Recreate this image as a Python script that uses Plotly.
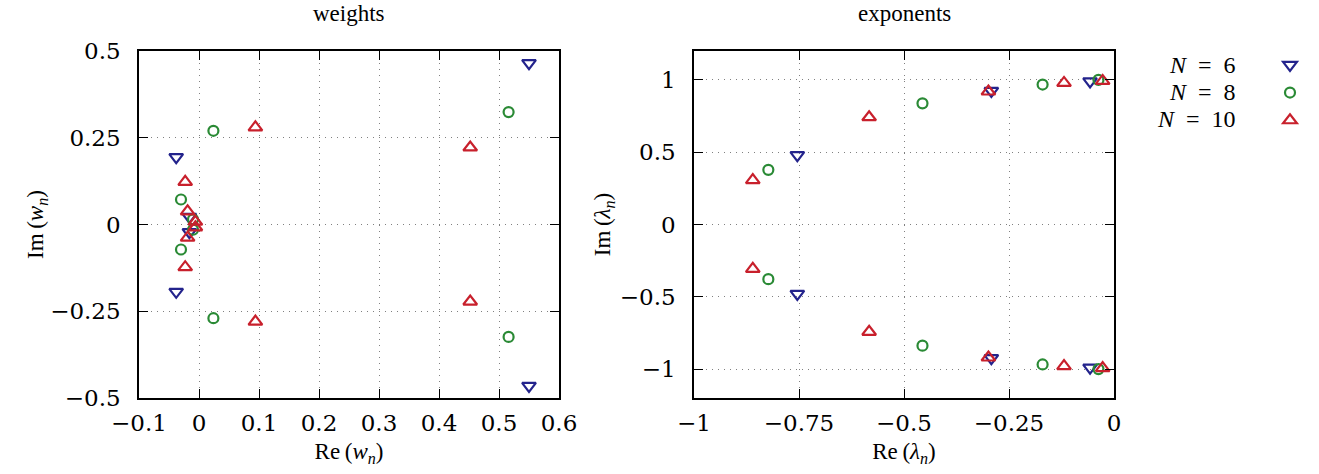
import plotly.graph_objects as go

# ---------------- data ----------------
# weights w_n (left panel)
w6_re = [0.550, -0.038, -0.016, -0.016, -0.038, 0.550]
w6_im = [0.465, 0.194, 0.022, -0.022, -0.194, -0.465]
w8_re = [0.516, 0.024, -0.030, -0.010, -0.010, -0.030, 0.024, 0.516]
w8_im = [0.324, 0.270, 0.072, 0.015, -0.015, -0.072, -0.270, -0.324]
w10_re = [0.452, 0.094, -0.023, -0.019, -0.006, -0.006, -0.019, -0.023, 0.094, 0.452]
w10_im = [0.222, 0.280, 0.123, 0.038, 0.008, -0.008, -0.038, -0.123, -0.280, -0.222]

# exponents lambda_n (right panel)
l6_re = [-0.754, -0.292, -0.057, -0.057, -0.292, -0.754]
l6_im = [0.480, 0.924, 0.990, -0.990, -0.924, -0.480]
l8_re = [-0.823, -0.456, -0.170, -0.037, -0.037, -0.170, -0.456, -0.823]
l8_im = [0.378, 0.838, 0.968, 1.000, -1.000, -0.968, -0.838, -0.378]
l10_re = [-0.860, -0.583, -0.299, -0.119, -0.027, -0.027, -0.119, -0.299, -0.583, -0.860]
l10_im = [0.307, 0.742, 0.920, 0.979, 0.993, -0.993, -0.979, -0.920, -0.742, -0.307]

series_names = ["<i>N</i>\u2002=\u20026", "<i>N</i>\u2002=\u20028", "<i>N</i>\u2002=\u200210"]
colors = ["#23238c", "#2a8a35", "#c8202c"]
symbols = ["triangle-down-open", "circle-open", "triangle-up-open"]
sizes = [12, 10, 12]

w_x_ticks = [-0.1, 0, 0.1, 0.2, 0.3, 0.4, 0.5, 0.6]
w_y_ticks = [-0.5, -0.25, 0, 0.25, 0.5]
l_x_ticks = [-1, -0.75, -0.5, -0.25, 0]
l_y_ticks = [-1, -0.5, 0, 0.5, 1]

W, H = 1319, 474
FONT = "Liberation Serif"
NUMFONT = "DejaVu Serif"


def lab(v):
    s = ("%g" % v)
    return s.replace("-", "\u2212")


fig = go.Figure()
w_data = [(w6_re, w6_im), (w8_re, w8_im), (w10_re, w10_im)]
l_data = [(l6_re, l6_im), (l8_re, l8_im), (l10_re, l10_im)]
for i in range(3):
    mk = dict(symbol=symbols[i], size=sizes[i], color=colors[i],
              line=dict(color=colors[i], width=2.2))
    fig.add_trace(go.Scatter(x=w_data[i][0], y=w_data[i][1], mode="markers",
                             xaxis="x", yaxis="y", marker=mk, name=" ",
                             legendgroup=str(i), showlegend=True))
    fig.add_trace(go.Scatter(x=l_data[i][0], y=l_data[i][1], mode="markers",
                             xaxis="x2", yaxis="y2", marker=mk, name=" ",
                             legendgroup=str(i), showlegend=False))

common = dict(showline=True, linecolor="black", linewidth=1.5, mirror="allticks",
              ticks="inside", ticklen=9, tickwidth=1.2, tickcolor="black",
              showgrid=True, gridcolor="#808080", gridwidth=1, griddash="1px,5px",
              zeroline=False, tickfont=dict(family=NUMFONT, size=23, color="black"),
              title_font=dict(family=FONT, size=23, color="black"))

ydom = [1 - 398 / H, 1 - 51 / H]
fig.update_layout(
    width=W, height=H, margin=dict(l=0, r=0, t=0, b=0, autoexpand=False),
    plot_bgcolor="white", paper_bgcolor="white",
    xaxis=dict(domain=[139 / W, 559 / W], range=[-0.1, 0.6], tickvals=w_x_ticks,
               ticktext=[lab(v) for v in w_x_ticks], anchor="y",
               title=dict(text="Re\u2009(<i>w</i><sub><i>n</i></sub>)", standoff=8),
               ticklabelstandoff=4, **common),
    yaxis=dict(domain=ydom, range=[-0.5, 0.5], tickvals=w_y_ticks,
               ticktext=[lab(v) for v in w_y_ticks], anchor="x",
               title=dict(text="Im\u2009(<i>w</i><sub><i>n</i></sub>)", standoff=0),
               ticklabelstandoff=12, **common),
    xaxis2=dict(domain=[694 / W, 1114 / W], range=[-1, 0], tickvals=l_x_ticks,
                ticktext=[lab(v) for v in l_x_ticks], anchor="y2",
                title=dict(text="Re\u2009(<i>λ</i><sub><i>n</i></sub>)", standoff=8),
                ticklabelstandoff=4, **common),
    yaxis2=dict(domain=ydom, range=[-1.2, 1.2], tickvals=l_y_ticks,
                ticktext=[lab(v) for v in l_y_ticks], anchor="x2",
                title=dict(text="Im\u2009(<i>λ</i><sub><i>n</i></sub>)", standoff=3),
                ticklabelstandoff=12, **common),
    legend=dict(x=1270 / W, y=1 - 46 / H, xanchor="left", yanchor="top",
                font=dict(family=FONT, size=19), bgcolor="rgba(0,0,0,0)",
                itemwidth=30, tracegroupgap=0),
    showlegend=True,
)

# panel titles
fig.add_annotation(text="weights", x=349 / W, y=1 - 13 / H, xref="paper", yref="paper",
                   xanchor="center", yanchor="middle",
                   showarrow=False, font=dict(family=FONT, size=23, color="black"))
fig.add_annotation(text="exponents", x=904 / W, y=1 - 13 / H, xref="paper", yref="paper",
                   xanchor="center", yanchor="middle",
                   showarrow=False, font=dict(family=FONT, size=23, color="black"))

# legend labels (text to the left of the markers, as in the reference)
for i, yy in enumerate([65, 92, 119]):
    fig.add_annotation(text=series_names[i], x=1238 / W, y=1 - yy / H, xref="paper",
                       yref="paper", xanchor="right", yanchor="middle", showarrow=False,
                       font=dict(family=FONT, size=24, color="black"))

fig.write_html("out.html", config={"displayModeBar": False},
               post_script="document.body.style.margin='0';document.body.style.overflow='hidden';")
